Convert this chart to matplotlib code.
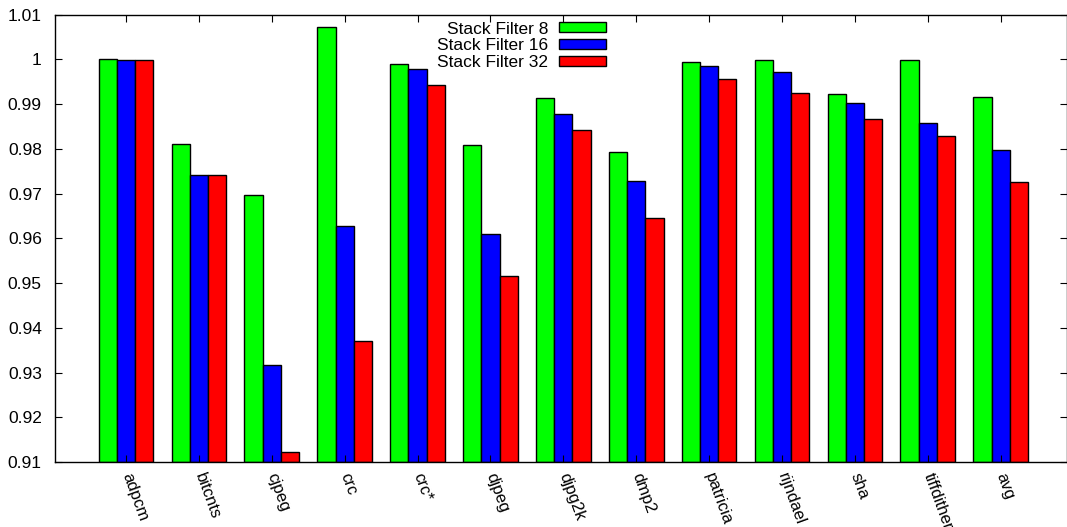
import matplotlib
matplotlib.use("Agg")
import matplotlib.pyplot as plt
import numpy as np

plt.rcParams['font.family'] = ['Liberation Sans', 'DejaVu Sans']

categories = ["adpcm", "bitcnts", "cjpeg", "crc", "crc*", "djpeg", "djpg2k",
              "dmp2", "patricia", "rijndael", "sha", "tiffdither", "avg"]
sf8 = [1.0000, 0.9811, 0.9698, 1.0073, 0.9990, 0.9809, 0.9914,
       0.9794, 0.9994, 0.9999, 0.9922, 0.9998, 0.9916]
sf16 = [0.9998, 0.9741, 0.9316, 0.9627, 0.9979, 0.9609, 0.9877,
        0.9729, 0.9986, 0.9973, 0.9903, 0.9859, 0.9797]
sf32 = [0.9998, 0.9741, 0.9122, 0.9370, 0.9943, 0.9517, 0.9842,
        0.9645, 0.9956, 0.9924, 0.9868, 0.9828, 0.9726]
series_names = ["Stack Filter 8", "Stack Filter 16", "Stack Filter 32"]
series_colors = ["#00ff00", "#0000ff", "#ff0000"]
yticks = [0.91, 0.92, 0.93, 0.94, 0.95, 0.96, 0.97, 0.98, 0.99, 1.0, 1.01]
ytick_labels = ["0.91", "0.92", "0.93", "0.94", "0.95", "0.96", "0.97",
                "0.98", "0.99", "1", "1.01"]

FS = 12.5

fig = plt.figure(figsize=(10.67, 5.27), dpi=100)
ax = fig.add_axes([0.0515, 0.1233, 0.9485, 0.8487])

x = np.arange(len(categories))
w = 0.25
base = 0.91
for i, (vals, name, col) in enumerate(zip([sf8, sf16, sf32], series_names, series_colors)):
    v = np.array(vals)
    ax.bar(x + (i - 1) * w, v - base, width=w, bottom=base, color=col,
           edgecolor="black", linewidth=1.0, label=name)

ax.set_ylim(0.91, 1.01)
ax.set_xlim(-0.975, 12.91)
ax.set_yticks(yticks)
ax.set_yticklabels(ytick_labels, fontsize=FS)
ax.set_xticks(x)
ax.set_xticklabels(categories, fontsize=12, rotation=-70,
                   rotation_mode="anchor", ha="left", va="center")
ax.tick_params(axis="both", direction="in", length=5, width=0.8,
               top=True, right=True)
ax.tick_params(axis="y", pad=9.5)
ax.tick_params(axis="x", pad=8.5)
for s in ax.spines.values():
    s.set_linewidth(1.0)

leg = ax.legend(loc="upper center", bbox_to_anchor=(0.461, 1.012), frameon=False,
                markerfirst=False, fontsize=FS, handlelength=2.7,
                handleheight=0.5, labelspacing=0.1, handletextpad=0.65,
                borderpad=0.2)
for t in leg.get_texts():
    t.set_ha("right")

fig.savefig("out.png", dpi=100)
